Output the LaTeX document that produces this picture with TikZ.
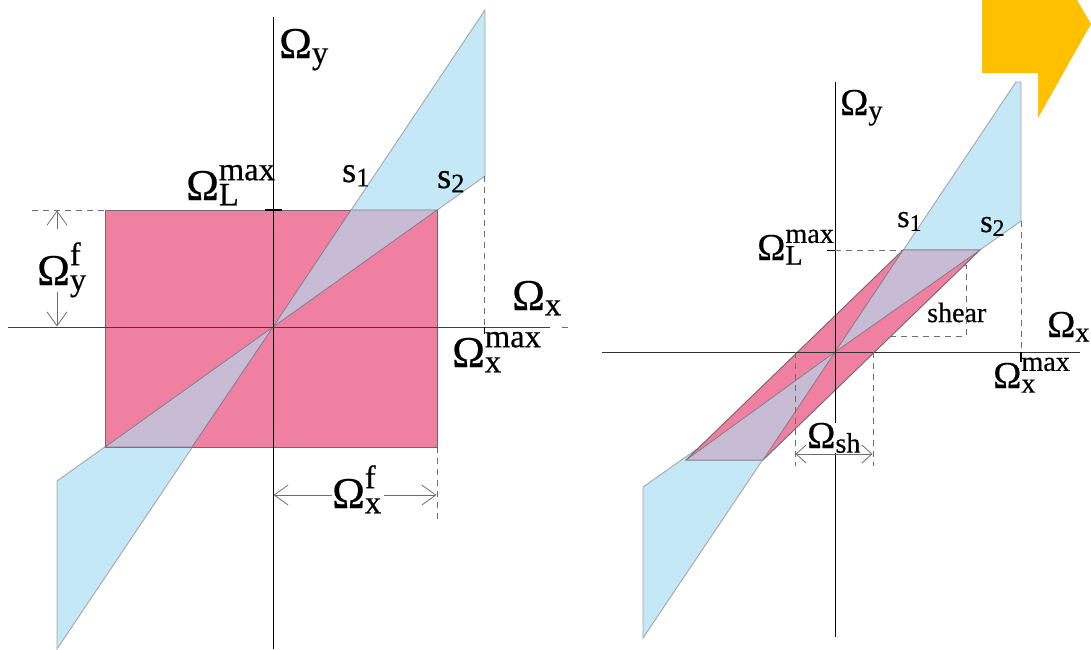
\documentclass[tikz,border=0pt]{standalone}
\usepackage{fontspec}
\setmainfont{Liberation Serif}[FakeBold=0.5]
\usepackage{graphicx}
\usetikzlibrary{arrows.meta}
\definecolor{pinkf}{RGB}{240,128,162}
\definecolor{bluef}{RGB}{197,232,247}
\definecolor{lavf}{RGB}{200,188,212}
\definecolor{blueedge}{RGB}{165,165,170}
\definecolor{lavedge}{RGB}{135,125,135}
\definecolor{rectedge}{RGB}{115,100,108}
\definecolor{yel}{RGB}{255,192,0}
\definecolor{dimc}{RGB}{110,110,110}
\newcommand\Sb[1]{\raisebox{-0.12em}{\scalebox{0.74}{#1}}}
\newcommand\SpSb[2]{\makebox[0pt][l]{\raisebox{0.45em}{\scalebox{0.74}{#1}}}\raisebox{-0.12em}{\scalebox{0.74}{#2}}}
\begin{document}
\begin{tikzpicture}[x=1pt,y=-1pt,
  axis/.style={draw=black,line width=0.9pt},
  bluewedge/.style={fill=bluef,draw=blueedge,line width=0.9pt,line join=miter},
  pinkreg/.style={fill=pinkf,draw=rectedge,line width=0.9pt},
  lavreg/.style={fill=lavf,draw=lavedge,line width=0.8pt},
  dashln/.style={draw=dimc,dash pattern=on 6pt off 5pt,line width=0.9pt},
  dimline/.style={draw=dimc,line width=0.8pt},
  bigbarb/.tip={Straight Barb[length=14pt,width=20pt]},
  smallbarb/.tip={Straight Barb[length=10pt,width=18pt]},
  bl/.style={inner sep=0pt,anchor=base west,font=\fontsize{44}{46}\selectfont},
  br/.style={inner sep=0pt,anchor=base west,font=\fontsize{38}{40}\selectfont},
  sll/.style={inner sep=0pt,anchor=base west,font=\fontsize{36}{38}\selectfont},
  slr/.style={inner sep=0pt,anchor=base west,font=\fontsize{32}{34}\selectfont},
  shl/.style={inner sep=0pt,anchor=base west,font=\fontsize{28}{30}\selectfont}]
\useasboundingbox (0,0) rectangle (1091,649);
% yellow marker
\fill[yel] (982,0) -- (1077,0) -- (1091,24) -- (1038,118) -- (1038,73) -- (982,73) -- cycle;
%% ---------------- left diagram ----------------
\coordinate (O1) at (273,327);
\filldraw[bluewedge] (O1) -- (485,10) -- (485,176) -- cycle;
\filldraw[bluewedge] (O1) -- (57,649) -- (57,481) -- cycle;
\filldraw[pinkreg] (105,210) rectangle (437,447);
\filldraw[lavreg] (O1) -- (351,210) -- (437,210) -- cycle;
\filldraw[lavreg] (O1) -- (192,447) -- (105,447) -- cycle;
\draw[axis] (273,17) -- (273,649);
\draw[axis,draw=black!75] (8,327) -- (550,327);
\draw[dashln] (562,327) -- (568,327);
\draw[line width=2.6pt] (265,210) -- (282,210);
\draw[dashln] (32,210) -- (105,210);
\draw[dashln] (484,176) -- (484,327);
\draw[line width=0.9pt] (484,327) -- (484,334);
\draw[dashln] (437,447) -- (437,522);
\coordinate (yfT) at (57,210.5);
\coordinate (yfa) at (57,229);
\coordinate (yfb) at (57,292);
\coordinate (yfB) at (57,326.5);
\draw[dimline,bigbarb-] (yfT) -- (yfa);
\draw[dimline,-bigbarb] (yfb) -- (yfB);
\coordinate (xfL) at (273.5,495);
\coordinate (xfa) at (332,495);
\coordinate (xfb) at (384,495);
\coordinate (xfR) at (436.5,495);
\draw[dimline,bigbarb-] (xfL) -- (xfa);
\draw[dimline,-bigbarb] (xfb) -- (xfR);
\node[bl] (ly) at (279,58) {Ω\Sb{y}};
\node[bl] (lL) at (186,200) {Ω\SpSb{max}{L}};
\node[bl] (lyf) at (37,285) {Ω\SpSb{f}{y}};
\node[bl] (lx) at (512,310) {Ω\Sb{x}};
\node[bl] (lxm) at (452,367) {Ω\SpSb{max}{x}};
\node[bl] (lxf) at (332,508) {Ω\SpSb{f}{x}};
\node[sll] (ls1) at (342,182) {s\Sb{1}};
\node[sll] (ls2) at (437,188) {s\Sb{2}};
%% ---------------- right diagram ----------------
\coordinate (O2) at (835,352);
\filldraw[bluewedge] (O2) -- (1016,82) -- (1021,82) -- (1021,221) -- cycle;
\filldraw[bluewedge] (O2) -- (643,638) -- (643,487) -- cycle;
\filldraw[pinkreg] (686,460) -- (903,250) -- (980,250) -- (763,460) -- cycle;
\filldraw[lavreg] (O2) -- (903,250) -- (980,250) -- cycle;
\filldraw[lavreg] (O2) -- (763,460) -- (686,460) -- cycle;
\draw[axis] (835,82) -- (835,637);
\draw[axis,draw=black!80] (602,352) -- (1080,352);
\draw[line width=0.9pt] (827,250) -- (835,250);
\draw[dashln] (835,250) -- (903,250);
\draw[dashln] (1021,221) -- (1021,352);
\draw[line width=1.1pt] (1021,352) -- (1021,362);
\node[shl] (shr) at (927,322) {shear};
\draw[dashln] (964,265) -- (966,265) -- (966,336) -- (891,336);
\draw[dashln] (795,352) -- (795,466);
\draw[dashln] (873,352) -- (873,466);
\node[br] (ry) at (840,115) {Ω\Sb{y}};
\node[br] (rL) at (757,260) {Ω\SpSb{max}{L}};
\node[slr] (rs1) at (897,227) {s\Sb{1}};
\node[slr] (rs2) at (980,232) {s\Sb{2}};
\node[br] (rx) at (1047,337) {Ω\Sb{x}};
\node[br] (rxm) at (993,388) {Ω\SpSb{max}{x}};
\node[br,fill=white] (rsh) at (807,448) {Ω\Sb{sh}};
\coordinate (shL) at (795.5,454);
\coordinate (shR) at (872.5,454);
\draw[dimline,smallbarb-smallbarb] (shL) -- (shR);
\end{tikzpicture}
\end{document}
